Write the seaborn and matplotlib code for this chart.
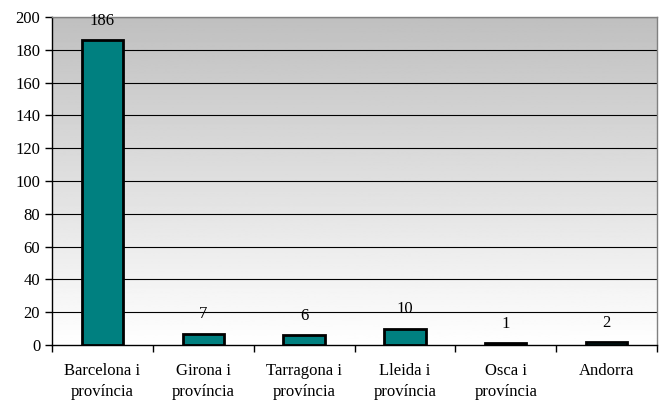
import seaborn as sns
import matplotlib.pyplot as plt
import numpy as np
import pandas as pd

categories = ['Barcelona i\nprovíncia', 'Girona i\nprovíncia', 'Tarragona i\nprovíncia',
              'Lleida i\nprovíncia', 'Osca i\nprovíncia', 'Andorra']
values = [186, 7, 6, 10, 1, 2]

df = pd.DataFrame({'cat': categories, 'val': values})

sns.set_style('white')
plt.rcParams['font.family'] = ['Liberation Serif', 'DejaVu Serif']
plt.rcParams['text.color'] = 'black'
plt.rcParams['xtick.color'] = 'black'
plt.rcParams['ytick.color'] = 'black'

fig = plt.figure(figsize=(6.71, 4.03), dpi=100)
ax = fig.add_axes([52 / 671, 1 - 345 / 403, (657 - 52) / 671, (345 - 17) / 403])

# gradient background, grey at top to white at bottom
grad = np.linspace(0.75, 1.0, 256).reshape(-1, 1)
ax.imshow(grad, cmap='gray', vmin=0, vmax=1, aspect='auto',
          extent=[0, 1, 0, 1], transform=ax.transAxes, zorder=0)

sns.barplot(data=df, x='cat', y='val', color='#008080', width=0.41,
            edgecolor='black', linewidth=2, saturation=1, ax=ax, zorder=3)

ax.set_ylim(0, 200)
ax.set_xlim(-0.5, len(categories) - 0.5)
ax.set_yticks(range(0, 201, 20))
for y in range(20, 201, 20):
    ax.axhline(y, color='black', linewidth=0.8, zorder=2)

ax.set_xticks(np.arange(-0.5, len(categories), 1.0))
ax.set_xticklabels([])
ax.set_xticks(range(len(categories)), minor=True)
ax.set_xticklabels(categories, minor=True, fontsize=12, linespacing=1.4)
ax.tick_params(axis='x', which='major', direction='out', length=5, width=1, color='black', bottom=True)
ax.tick_params(axis='x', which='minor', length=0, pad=13)
ax.tick_params(axis='y', direction='out', length=5, width=1, color='black', left=True, labelsize=12)

for i, v in enumerate(values):
    ax.annotate(str(v), (i, v), xytext=(0, 8), textcoords='offset points',
                ha='center', va='bottom', fontsize=12)

ax.set_xlabel('')
ax.set_ylabel('')
ax.spines['left'].set_color('black')
ax.spines['bottom'].set_color('black')
ax.spines['top'].set_color('#808080')
ax.spines['right'].set_color('#808080')
for s in ax.spines.values():
    s.set_linewidth(1)

fig.savefig('out.png', dpi=100)
